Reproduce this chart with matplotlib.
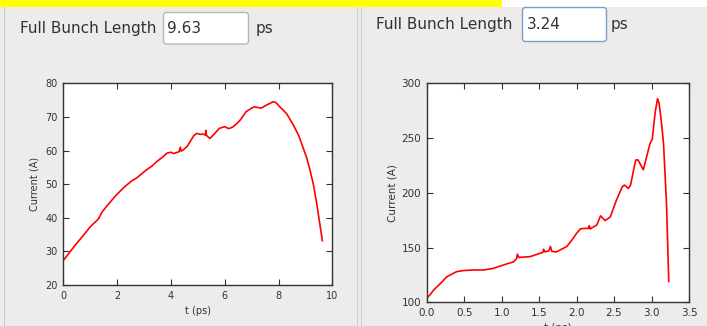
import matplotlib.pyplot as plt
import matplotlib.patches as patches
from matplotlib.transforms import IdentityTransform
import numpy as np

W, H = 707, 326

# bunch length values shown in the entry boxes
length_left = "9.63"
length_right = "3.24"

# current profile, long bunch
t_left = [0.0, 0.1, 0.3, 0.5, 0.8, 1.0, 1.3, 1.45, 1.6, 1.8, 2.0, 2.2, 2.35, 2.55, 2.72,
          2.9, 3.1, 3.3, 3.47, 3.7, 3.85, 4.0, 4.1, 4.2, 4.3, 4.35, 4.38, 4.46, 4.6,
          4.71, 4.85, 4.96, 5.1, 5.2, 5.28, 5.3, 5.32, 5.45, 5.6, 5.8, 6.0, 6.15, 6.3,
          6.45, 6.57, 6.8, 7.0, 7.1, 7.35, 7.55, 7.8, 7.9, 8.05, 8.3, 8.55, 8.75, 8.92,
          9.05, 9.17, 9.3, 9.42, 9.52, 9.63]
i_left = [27.3, 28.3, 30.4, 32.4, 35.3, 37.3, 39.6, 41.8, 43.3, 45.2, 47.0, 48.6, 49.7, 51.0, 51.8,
          53.0, 54.3, 55.4, 56.7, 58.1, 59.2, 59.5, 59.1, 59.4, 59.6, 61.0, 59.8, 60.2, 61.2,
          62.6, 64.4, 65.1, 64.8, 64.9, 64.6, 66.0, 64.5, 63.6, 64.8, 66.6, 67.1, 66.5, 67.0,
          68.0, 69.0, 71.6, 72.6, 73.0, 72.6, 73.5, 74.5, 74.3, 73.0, 71.0, 67.6, 64.5, 60.7,
          57.8, 54.2, 49.8, 44.3, 39.0, 33.2]

# current profile, compressed bunch
t_right = [0.0, 0.04, 0.09, 0.18, 0.27, 0.4, 0.49, 0.62, 0.76, 0.89, 1.02, 1.16, 1.2, 1.21,
           1.23, 1.38, 1.51, 1.55, 1.56, 1.58, 1.63, 1.65, 1.67, 1.73, 1.87, 1.95, 2.0,
           2.05, 2.1, 2.16, 2.17, 2.18, 2.27, 2.32, 2.38, 2.45, 2.53, 2.61, 2.64, 2.69,
           2.72, 2.77, 2.79, 2.82, 2.89, 2.95, 2.98, 3.01, 3.03, 3.05, 3.08, 3.1, 3.13,
           3.16, 3.2, 3.23]
i_right = [104.0, 106.5, 111.0, 117.0, 123.4, 128.0, 129.0, 129.5, 129.5, 131.0, 134.0, 137.0, 140.0, 144.0,
           141.0, 141.7, 144.7, 145.5, 148.5, 146.0, 147.0, 151.0, 146.5, 146.0, 151.0, 158.0, 163.0,
           167.0, 167.5, 167.5, 170.0, 167.0, 170.6, 179.0, 174.6, 178.0, 193.0, 205.6, 207.0, 204.0,
           207.0, 224.0, 230.0, 230.0, 221.0, 237.0, 245.0, 249.0, 262.0, 274.0, 286.0, 282.0, 266.0,
           245.0, 190.0, 119.0]

bg = "#edecea"
ink = "#2e3436"
fig = plt.figure(figsize=(W / 100, H / 100), dpi=100, facecolor=bg)

px = IdentityTransform()


def rect(x, y, w, h, **kw):
    # pixel box measured from the top-left corner
    fig.patches.append(patches.Rectangle((x, H - y - h), w, h, transform=px, **kw))


def entry(x, y, w, h, text, edge):
    fig.patches.append(patches.FancyBboxPatch(
        (x, H - y - h), w, h, boxstyle="round,pad=0,rounding_size=3",
        transform=px, facecolor="white", edgecolor=edge, linewidth=1.0))
    fig.text((x + 4) / W, 1 - (y + h / 2) / H, text, fontsize=11,
             color=ink, va="center", ha="left")


# top strip and panel borders
rect(0, 0, 502, 6.5, facecolor="#ffff00", edgecolor="none")
rect(502, 0, 205, 6.5, facecolor="white", edgecolor="none")
rect(3.5, 6.5, 1, 320, facecolor="#c9c9c7", edgecolor="none")
rect(356.5, 6.5, 1, 320, facecolor="#cfcfcd", edgecolor="none")
rect(360.5, 6.5, 1, 320, facecolor="#cfcfcd", edgecolor="none")

# header rows
fig.text(20.5 / W, 1 - 28 / H, "Full Bunch Length", fontsize=11, color=ink, va="center")
entry(163.5, 12.5, 85, 31.5, length_left, "#b6b6b3")
fig.text(256 / W, 1 - 28 / H, "ps", fontsize=11, color=ink, va="center")

fig.text(376.5 / W, 1 - 24 / H, "Full Bunch Length", fontsize=11, color=ink, va="center")
entry(522.5, 7.5, 84, 34, length_right, "#7c9dc7")
fig.text(611 / W, 1 - 24 / H, "ps", fontsize=11, color=ink, va="center")


def style(ax, fs):
    ax.set_facecolor("white")
    for s in ax.spines.values():
        s.set_color("#333333")
        s.set_linewidth(1.0)
    ax.tick_params(direction="in", top=True, right=True, length=4, width=0.8,
                   color="#333333", labelsize=fs, labelcolor="#333333", pad=4)


# left plot
ax1 = fig.add_axes([63.3 / W, (H - 285) / H, 269 / W, 201.7 / H])
ax1.plot(t_left, i_left, color="red", linewidth=1.2)
ax1.set_xlim(0, 10)
ax1.set_ylim(20, 80)
ax1.set_xticks(np.arange(0, 11, 2))
ax1.set_yticks(np.arange(20, 81, 10))
style(ax1, 7)
ax1.set_xlabel("t (ps)", fontsize=7, color="#333333", labelpad=4)
ax1.set_ylabel("Current (A)", fontsize=7, color="#333333", labelpad=4.5)

# right plot
ax2 = fig.add_axes([426.7 / W, (H - 302.3) / H, 262.3 / W, 219 / H])
ax2.plot(t_right, i_right, color="red", linewidth=1.2)
ax2.set_xlim(0, 3.5)
ax2.set_ylim(100, 300)
ax2.set_xticks(np.arange(0, 3.51, 0.5))
ax2.set_yticks(np.arange(100, 301, 50))
style(ax2, 7.5)
ax2.set_xlabel("t (ps)", fontsize=7.5, color="#333333", labelpad=4)
ax2.set_ylabel("Current (A)", fontsize=7.5, color="#333333", labelpad=3)

fig.savefig("out.png", dpi=100, facecolor=bg)
